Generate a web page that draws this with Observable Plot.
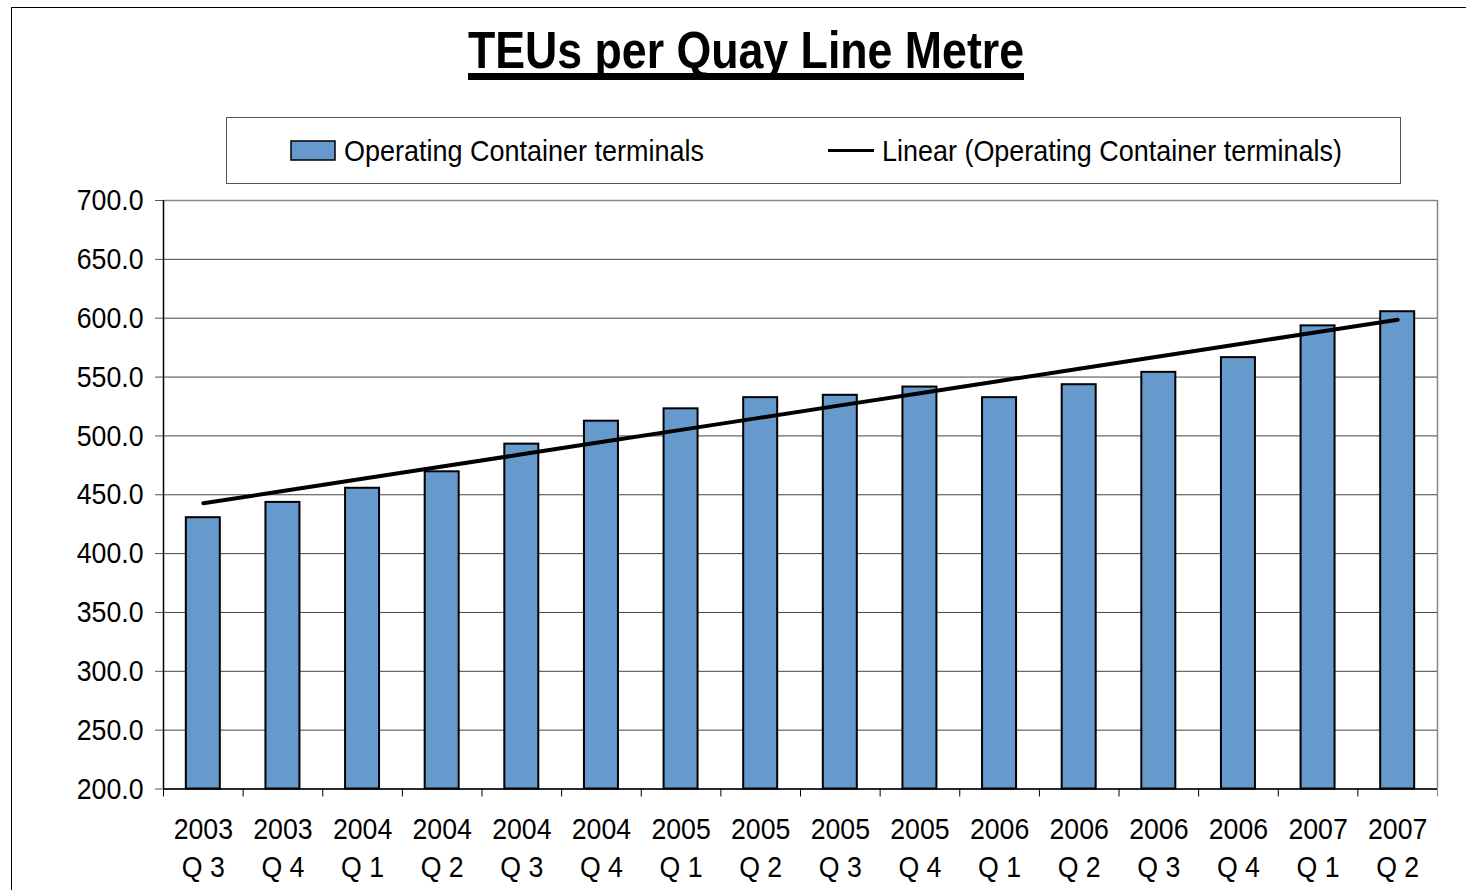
<!DOCTYPE html>
<html><head><meta charset="utf-8">
<script src="https://cdn.jsdelivr.net/npm/d3@7"></script>
<script src="https://cdn.jsdelivr.net/npm/@observablehq/plot@0.6"></script>
<style>
body{margin:0;background:#fff;font-family:"Liberation Sans",Arial,sans-serif;}
#wrap{position:relative;width:1466px;height:890px;overflow:hidden;background:#fff;}
#frame{position:absolute;left:11px;top:7px;width:1500px;height:1000px;border-left:1.5px solid #000;border-top:1.5px solid #000;box-sizing:border-box;}
#header{position:absolute;left:0;top:0;}
#chart{position:absolute;left:0;top:160px;}
</style></head><body>
<div id="wrap">
<div id="frame"></div>
<svg id="header" width="1466" height="190" font-family="Liberation Sans, Arial, sans-serif">
  <text x="746" y="68" text-anchor="middle" font-size="52" font-weight="bold" textLength="556" lengthAdjust="spacingAndGlyphs">TEUs per Quay Line Metre</text>
  <rect x="468" y="73" width="556" height="7" fill="#000"></rect>
  <rect x="226.5" y="117.5" width="1174" height="66" fill="none" stroke="#555" stroke-width="1"></rect>
  <rect x="291" y="141" width="44" height="19" fill="#6699cc" stroke="#000" stroke-width="1.5"></rect>
  <text x="344" y="161" font-size="30" textLength="360" lengthAdjust="spacingAndGlyphs">Operating Container terminals</text>
  <line x1="828" x2="874" y1="150.5" y2="150.5" stroke="#000" stroke-width="3"></line>
  <text x="882" y="161" font-size="30" textLength="460" lengthAdjust="spacingAndGlyphs">Linear (Operating Container terminals)</text>
</svg>
<div id="chart"></div>
</div>
<script>
const quarters = ["2003\nQ 3","2003\nQ 4","2004\nQ 1","2004\nQ 2","2004\nQ 3","2004\nQ 4","2005\nQ 1","2005\nQ 2","2005\nQ 3","2005\nQ 4","2006\nQ 1","2006\nQ 2","2006\nQ 3","2006\nQ 4","2007\nQ 1","2007\nQ 2"];
const values = [430.5, 443.5, 455.5, 469.5, 493, 512.5, 523, 532.5, 534.5, 541.5, 532.5, 543.5, 554, 566.5, 593.5, 605.5];
const yTicks = [200, 250, 300, 350, 400, 450, 500, 550, 600, 650, 700];

const data = quarters.map((q, i) => ({q, v: values[i]}));

// least-squares linear trend (Excel "Linear" trendline)
const n = values.length;
const mx = (n - 1) / 2;
const my = d3.mean(values);
const slope = d3.sum(values, (v, i) => (i - mx) * (v - my)) / d3.sum(values, (v, i) => (i - mx) ** 2);
const trend = quarters.map((q, i) => ({q, v: my + slope * (i - mx)}));

const step = (1466 - 163 - 29) / n;
const first = quarters[0], last = quarters[n - 1];

const chart = Plot.plot({
  width: 1466,
  height: 730,
  marginTop: 40,
  marginBottom: 101.5,
  marginLeft: 163,
  marginRight: 29,
  style: {fontFamily: "Liberation Sans, Arial, sans-serif", fontSize: "30px", background: "transparent", color: "#000"},
  x: {domain: quarters, paddingInner: 0.573, paddingOuter: 0.2865, round: false, axis: null},
  y: {domain: [200, 700], axis: null, label: null},
  marks: [
    Plot.gridY(yTicks, {stroke: "#444", strokeOpacity: 1, strokeWidth: 1}),
    Plot.ruleY([700], {stroke: "#888", strokeWidth: 1.5}),
    Plot.ruleX([last], {dx: step / 2, stroke: "#888", strokeWidth: 1.5}),
    Plot.axisY(yTicks, {tickSize: 8, tickPadding: 12, tickFormat: d => d.toFixed(1), stroke: "#555", fontSize: 30, fill: "#000", label: null}),
    Plot.axisX({tickSize: 0, tickPadding: 23, fontSize: 30, lineHeight: 1.27, fill: "#000", label: null}),
    Plot.axisX(quarters, {tickSize: 8, dx: -step / 2, tickFormat: () => "", stroke: "#000", label: null}),
    Plot.axisX([last], {tickSize: 8, dx: step / 2, tickFormat: () => "", stroke: "#888", label: null}),
    Plot.barY(data, {x: "q", y1: 200, y2: "v", fill: "#6699cc", stroke: "#000", strokeWidth: 2}),
    Plot.ruleX([first], {dx: -step / 2, stroke: "#000", strokeWidth: 1.5}),
    Plot.ruleY([200], {stroke: "#000", strokeWidth: 1.5}),
    Plot.line(trend, {x: "q", y: "v", stroke: "#000", strokeWidth: 4})
  ]
});
document.getElementById("chart").appendChild(chart);

// slightly condensed tick labels, as in the original
chart.querySelectorAll("text").forEach(t => {
  const tr = t.getAttribute("transform");
  if (tr && tr.includes("translate")) t.setAttribute("transform", tr + " scale(0.89,1)");
});
</script>
</body></html>
